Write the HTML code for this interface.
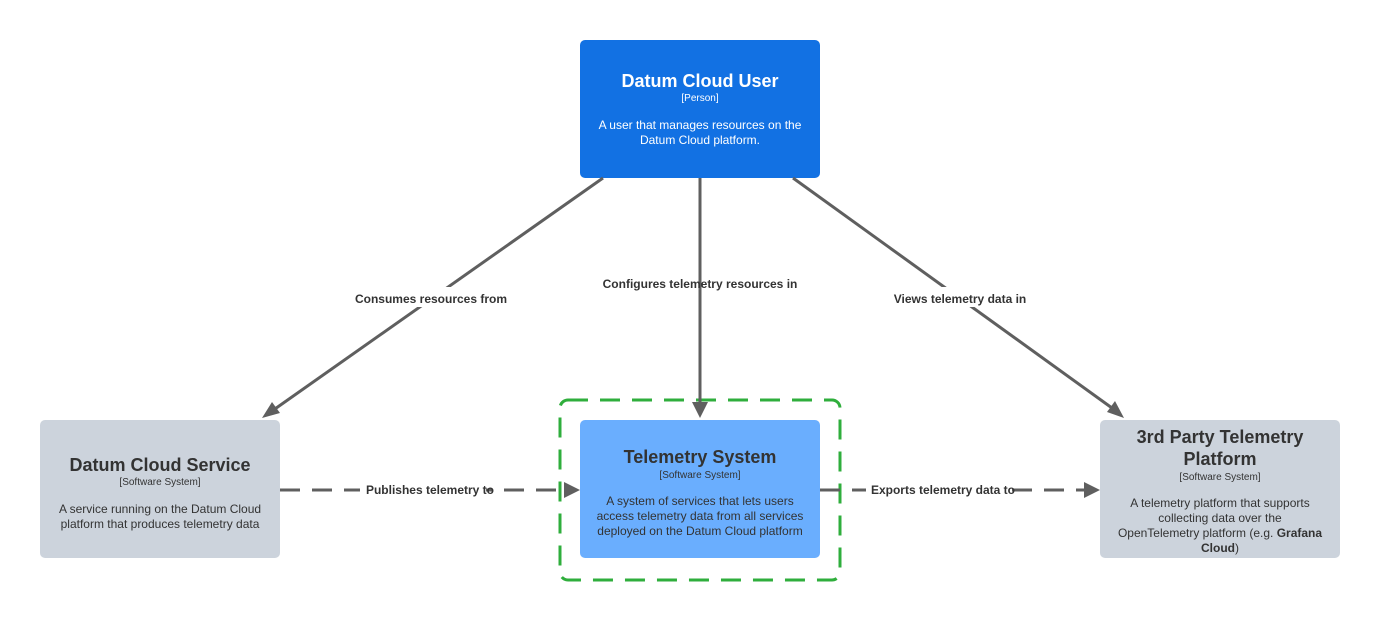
<!DOCTYPE html>
<html><head><meta charset="utf-8"><style>
html,body{margin:0;padding:0;background:#fff;}
svg{display:block;font-family:"Liberation Sans",sans-serif;}
</style></head><body>
<svg width="1380" height="620" viewBox="0 0 1380 620" xmlns="http://www.w3.org/2000/svg">
<rect x="560" y="400" width="280" height="180" rx="8" fill="none" stroke="#2fae3c" stroke-width="3" stroke-dasharray="20,12"/>
<rect x="580" y="40" width="240" height="138" rx="5" fill="#1271e3"/>
<rect x="40" y="420" width="240" height="138" rx="5" fill="#ccd3dc"/>
<rect x="580" y="420" width="240" height="138" rx="5" fill="#6aaefe"/>
<rect x="1100" y="420" width="240" height="138" rx="5" fill="#ccd3dc"/>
<g stroke="#5f5f5f" stroke-width="3" fill="none">
<line x1="603" y1="178" x2="272" y2="411"/>
<line x1="700" y1="178" x2="700" y2="405"/>
<line x1="793" y1="178" x2="1112" y2="408"/>
<line x1="280" y1="490" x2="566" y2="490" stroke-dasharray="20,12"/>
<line x1="820" y1="490" x2="1086" y2="490" stroke-dasharray="20,12"/>
</g>
<g fill="#5f5f5f">
<polygon points="262,418 272,402 280,413"/>
<polygon points="700,418 692,402 708,402"/>
<polygon points="1124,418 1107,412 1115,401"/>
<polygon points="580,490 564,482 564,498"/>
<polygon points="1100,490 1084,482 1084,498"/>
</g>
<g fill="#fff">
<rect x="354" y="287" width="154" height="20"/>
<rect x="893" y="287" width="134" height="20"/>
<rect x="360" y="482" width="126" height="16"/>
<rect x="866" y="482" width="140" height="16"/>
</g>
<g font-size="12" font-weight="bold" fill="#333" text-anchor="middle">
<text x="431" y="303">Consumes resources from</text>
<text x="700" y="288">Configures telemetry resources in</text>
<text x="960" y="303">Views telemetry data in</text>
<text x="430" y="494">Publishes telemetry to</text>
<text x="943" y="494">Exports telemetry data to</text>
</g>
<g text-anchor="middle">
<text x="700" y="87" font-size="18" font-weight="bold" fill="#fff">Datum Cloud User</text>
<text x="700" y="101" font-size="10" fill="#fff">[Person]</text>
<text x="700" y="129" font-size="12" fill="#fff">A user that manages resources on the</text>
<text x="700" y="144" font-size="12" fill="#fff">Datum Cloud platform.</text>

<text x="160" y="471" font-size="18" font-weight="bold" fill="#333">Datum Cloud Service</text>
<text x="160" y="485" font-size="10" fill="#333">[Software System]</text>
<text x="160" y="513" font-size="12" fill="#333">A service running on the Datum Cloud</text>
<text x="160" y="528" font-size="12" fill="#333">platform that produces telemetry data</text>

<text x="700" y="463" font-size="18" font-weight="bold" fill="#333">Telemetry System</text>
<text x="700" y="478" font-size="10" fill="#333">[Software System]</text>
<text x="700" y="505" font-size="12" fill="#333">A system of services that lets users</text>
<text x="700" y="520" font-size="12" fill="#333">access telemetry data from all services</text>
<text x="700" y="535" font-size="12" fill="#333">deployed on the Datum Cloud platform</text>

<text x="1220" y="443" font-size="18" font-weight="bold" fill="#333">3rd Party Telemetry</text>
<text x="1220" y="465" font-size="18" font-weight="bold" fill="#333">Platform</text>
<text x="1220" y="480" font-size="10" fill="#333">[Software System]</text>
<text x="1220" y="507" font-size="12" fill="#333">A telemetry platform that supports</text>
<text x="1220" y="522" font-size="12" fill="#333">collecting data over the</text>
<text x="1220" y="537" font-size="12" fill="#333">OpenTelemetry platform (e.g. <tspan font-weight="bold">Grafana</tspan></text>
<text x="1220" y="552" font-size="12" fill="#333"><tspan font-weight="bold">Cloud</tspan>)</text>
</g>
</svg>
</body></html>
